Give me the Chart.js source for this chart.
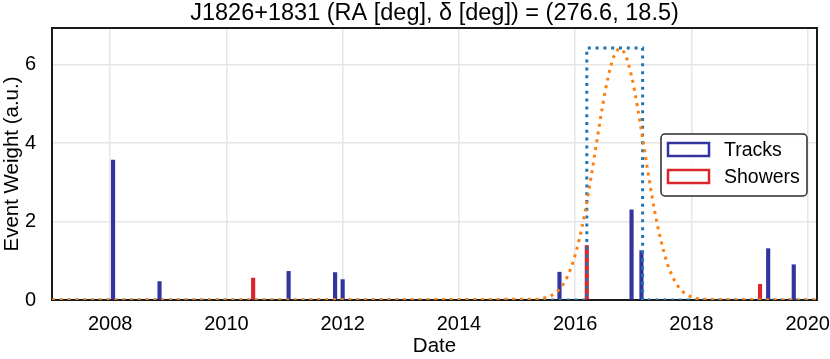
<!DOCTYPE html>
<html>
<head>
<meta charset="utf-8">
<script src="https://cdn.jsdelivr.net/npm/chart.js@4.4.1/dist/chart.umd.min.js"></script>
<style>
html,body{margin:0;padding:0;background:#fff;}
#wrap{width:830px;height:359px;position:relative;}
</style>
</head>
<body>
<div id="wrap"><canvas id="c" width="830" height="359"></canvas></div>
<script>
// ---- data ----
const chartTitle = 'J1826+1831 (RA [deg], δ [deg]) = (276.6, 18.5)';
const xLabel = 'Date';
const yLabel = 'Event Weight (a.u.)';
const xRange = [2007.0, 2020.16];
const yRange = [0, 6.94];
const xTicks = [2008, 2010, 2012, 2014, 2016, 2018, 2020];
const yTicks = [0, 2, 4, 6];

const trackDates   = [2008.05, 2008.85, 2011.07, 2011.87, 2012.00, 2015.73, 2016.97, 2017.14, 2019.32, 2019.76];
const trackWeights = [3.57, 0.47, 0.73, 0.70, 0.52, 0.71, 2.30, 1.26, 1.31, 0.90];
const showerDates   = [2010.46, 2016.20, 2019.18];
const showerWeights = [0.56, 1.39, 0.40];

const boxDates  = [2007.0, 2016.20, 2016.20, 2017.16, 2017.16, 2020.16];
const boxValues = [0, 0, 6.43, 6.43, 0, 0];

const gaussDates  = [2007.0, 2015.37, 2015.47, 2015.57, 2015.67, 2015.77, 2015.87, 2015.97, 2016.07, 2016.17, 2016.27,
                     2016.37, 2016.47, 2016.57, 2016.67, 2016.77, 2016.87, 2016.97, 2017.07, 2017.17, 2017.27,
                     2017.37, 2017.47, 2017.57, 2017.67, 2017.77, 2017.87, 2017.97, 2018.07, 2018.17, 2020.16];
const gaussValues = [0, 0.02, 0.05, 0.10, 0.19, 0.35, 0.61, 1.00, 1.55, 2.25, 3.10,
                     4.03, 4.94, 5.71, 6.23, 6.41, 6.23, 5.71, 4.94, 4.03, 3.10,
                     2.25, 1.55, 1.00, 0.61, 0.35, 0.19, 0.10, 0.05, 0.02, 0];

const legendLabels = ['Tracks', 'Showers'];

// ---- helpers ----
const pts = (xs, ys) => xs.map((x, i) => ({x: x, y: ys[i]}));
const FONT = "'Liberation Sans', Arial, Helvetica, sans-serif";
Chart.defaults.font.family = FONT;
Chart.defaults.color = '#000';

const TRACK_COLOR = '#3434a0';
const SHOWER_COLOR = '#da262c';

const framePlugin = {
  id: 'frame',
  beforeDatasetsDraw(chart) {
    const {ctx, chartArea: a} = chart;
    ctx.save();
    ctx.strokeStyle = '#1a1a1a';
    ctx.lineWidth = 2;
    ctx.strokeRect(a.left, a.top, a.right - a.left, a.bottom - a.top);
    ctx.restore();
  },
  afterDraw(chart) {
    const {ctx, chartArea: a} = chart;
    ctx.save();
    ctx.font = '23.5px ' + FONT;
    ctx.fillStyle = '#000';
    ctx.textAlign = 'center';
    ctx.textBaseline = 'middle';
    ctx.fillText(chartTitle, (a.left + a.right) / 2, 14);
    ctx.restore();
  }
};

const legendPlugin = {
  id: 'boxLegend',
  afterDraw(chart) {
    const {ctx} = chart;
    const x0 = 661, y0 = 134, w = 146, h = 62;
    ctx.save();
    ctx.beginPath();
    if (ctx.roundRect) ctx.roundRect(x0, y0, w, h, 4); else ctx.rect(x0, y0, w, h);
    ctx.fillStyle = 'rgba(255,255,255,0.9)';
    ctx.fill();
    ctx.strokeStyle = '#2b2b2b';
    ctx.lineWidth = 1.5;
    ctx.stroke();
    const items = [
      {label: chart.data.datasets[2].label, color: chart.data.datasets[2].backgroundColor, cy: 149.5},
      {label: chart.data.datasets[3].label, color: chart.data.datasets[3].backgroundColor, cy: 176.5}
    ];
    ctx.font = '19.5px ' + FONT;
    ctx.textBaseline = 'middle';
    ctx.textAlign = 'left';
    items.forEach(it => {
      ctx.fillStyle = '#fff';
      ctx.fillRect(668, it.cy - 6.5, 41, 13);
      ctx.strokeStyle = it.color;
      ctx.lineWidth = 2.5;
      ctx.strokeRect(668, it.cy - 6.5, 41, 13);
      ctx.fillStyle = '#000';
      ctx.fillText(it.label, 724, it.cy + 1);
    });
    ctx.restore();
  }
};

new Chart(document.getElementById('c'), {
  type: 'bar',
  data: {
    datasets: [
      {
        type: 'line', label: 'box', data: pts(boxDates, boxValues),
        borderColor: '#1f77b4', borderWidth: 3, borderDash: [3, 4.8], borderCapStyle: 'butt',
        pointRadius: 0, fill: false, tension: 0, order: 1
      },
      {
        type: 'line', label: 'gauss', data: pts(gaussDates, gaussValues),
        borderColor: '#ff7f0e', borderWidth: 3, borderDash: [3, 4.8], borderCapStyle: 'butt',
        pointRadius: 0, fill: false, cubicInterpolationMode: 'monotone', order: 0
      },
      {
        label: legendLabels[0], data: pts(trackDates, trackWeights),
        backgroundColor: TRACK_COLOR, borderWidth: 0, barThickness: 3.5, grouped: false, order: 3
      },
      {
        label: legendLabels[1], data: pts(showerDates, showerWeights),
        backgroundColor: SHOWER_COLOR, borderWidth: 0, barThickness: 3.5, grouped: false, order: 2
      }
    ]
  },
  options: {
    responsive: false,
    animation: false,
    events: [],
    layout: {padding: {left: 0, right: 13, top: 28, bottom: 0}},
    plugins: {
      legend: {display: false},
      tooltip: {enabled: false},
      title: {display: false}
    },
    scales: {
      x: {
        type: 'linear', offset: false, min: xRange[0], max: xRange[1],
        afterBuildTicks: s => { s.ticks = xTicks.map(v => ({value: v})); },
        afterFit: s => { s.height = 59; s.paddingLeft = 0; s.paddingRight = 0; },
        grid: {color: '#e6e6e6', lineWidth: 1.5, drawTicks: false, offset: false},
        border: {display: false},
        ticks: {font: {size: 20}, color: '#000', padding: 12, maxRotation: 0, autoSkip: false,
                callback: v => String(v)},
        title: {display: true, text: xLabel, color: '#000', font: {size: 20.5, lineHeight: 1.2},
                padding: {top: 0, bottom: 0}}
      },
      y: {
        type: 'linear', min: yRange[0], max: yRange[1],
        afterBuildTicks: s => { s.ticks = yTicks.map(v => ({value: v})); },
        afterFit: s => { s.width = 52; s.paddingTop = 0; s.paddingBottom = 0; },
        grid: {color: '#e6e6e6', lineWidth: 1.5, drawTicks: false},
        border: {display: false},
        ticks: {font: {size: 20}, color: '#000', padding: 16, callback: v => String(v)},
        title: {display: true, text: yLabel, color: '#000', font: {size: 20.5, lineHeight: 1.2},
                padding: {top: 0, bottom: 0}}
      }
    }
  },
  plugins: [framePlugin, legendPlugin]
});
</script>
</body>
</html>
